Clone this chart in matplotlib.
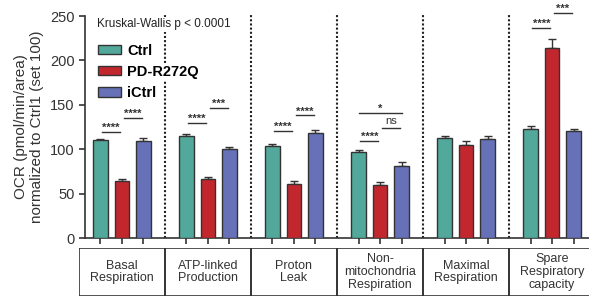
import numpy as np
import matplotlib
matplotlib.use("Agg")
import matplotlib.pyplot as plt
from matplotlib.patches import Rectangle

plt.rcParams['font.family'] = ['Liberation Sans', 'DejaVu Sans']

# 数据
categories = ["Basal\nRespiration", "ATP-linked\nProduction", "Proton\nLeak",
              "Non-\nmitochondria\nRespiration", "Maximal\nRespiration",
              "Spare\nRespiratory\ncapacity"]
groups = ["Ctrl", "PD-R272Q", "iCtrl"]
ctrl = [110, 115, 104, 97, 113, 123]
ctrl_err = [2, 2, 2, 2.5, 2, 3]
pd = [64, 66, 61, 60, 105, 214]
pd_err = [3, 3, 3, 3.5, 4, 10]
ictrl = [109, 100, 118, 81, 112, 120]
ictrl_err = [3.5, 3, 4, 5, 3, 3]

# 显著性标记: (组, 起始柱, 结束柱, 高度, 标签)
sig = [(0, 0, 1, 119, "****"), (0, 1, 2, 135, "****"),
       (1, 0, 1, 129, "****"), (1, 1, 2, 146, "***"),
       (2, 0, 1, 120, "****"), (2, 1, 2, 138, "****"),
       (3, 0, 1, 109, "****"), (3, 1, 2, 124, "ns"), (3, 0, 2, 141, "*"),
       (5, 0, 1, 236, "****"), (5, 1, 2, 253, "***")]

colors = ["#52a99b", "#c1272d", "#6671b7"]
values = [ctrl, pd, ictrl]
errors = [ctrl_err, pd_err, ictrl_err]
offsets = [-0.25, 0, 0.25]

fig = plt.figure(figsize=(5.89, 3.01), dpi=100)
ax = fig.add_axes([85/589, 63/301, 504/589, 222/301])

x = np.arange(len(categories))
for k in range(3):
    ax.bar(x + offsets[k], values[k], width=0.165, color=colors[k],
           edgecolor="#333333", linewidth=1.0, label=groups[k], zorder=3)
    ax.errorbar(x + offsets[k], values[k], yerr=[np.zeros(len(x)), errors[k]],
                fmt="none", ecolor="#333333", elinewidth=1.0, capsize=3,
                capthick=1.0, zorder=2)

for i in range(len(categories) - 1):
    ax.plot([i + 0.5, i + 0.5], [0, 252], ls=(0, (1, 1)), color="#222222",
            lw=1.5, zorder=1, clip_on=False)

for g, a, b, h, lab in sig:
    x1 = g + offsets[a] + 0.02
    x2 = g + offsets[b] - 0.02
    if b - a == 2:
        x1 = g + offsets[a]
        x2 = g + offsets[b]
    ax.plot([x1, x2], [h, h], color="#333333", lw=1.0, clip_on=False)
    if lab == "ns":
        ax.text((x1 + x2) / 2, h + 2, lab, ha="center", va="bottom",
                fontsize=8, color="#333333")
    else:
        ax.text((x1 + x2) / 2, h - 1, lab, ha="center", va="bottom",
                fontsize=8, color="#333333", fontweight="bold")

ax.set_xlim(-0.43, 5.43)
ax.set_ylim(0, 250)
ax.set_yticks([0, 50, 100, 150, 200, 250])
ax.set_xticks(np.concatenate([x + o for o in offsets]))
ax.set_xticklabels([])
ax.tick_params(axis="both", direction="out", length=4, width=1.2,
               labelsize=10.5, colors="#333333")
ax.spines["top"].set_visible(False)
ax.spines["right"].set_visible(False)
ax.spines["left"].set_linewidth(1.2)
ax.spines["bottom"].set_linewidth(1.2)
ax.spines["left"].set_color("#333333")
ax.spines["bottom"].set_color("#333333")
ax.set_ylabel("OCR (pmol/min/area)\nnormalized to Ctrl1 (set 100)",
              fontsize=11, color="#333333", labelpad=4)

ax.text(0.024, 0.962, "Kruskal-Wallis p < 0.0001", transform=ax.transAxes,
        fontsize=8.5, color="#222222", va="center",
        bbox=dict(facecolor="white", edgecolor="none", pad=1), zorder=5)

leg = ax.legend(loc="upper left", bbox_to_anchor=(0.0, 0.935), frameon=False,
                prop={"weight": "bold", "size": 10.5}, handlelength=1.6,
                handleheight=0.6, labelspacing=0.5, handletextpad=0.4)
leg.set_zorder(5)
for t in leg.get_texts():
    t.set_bbox(dict(facecolor="white", edgecolor="none", pad=0.5))

# 底部类别框
bx = fig.add_axes([79/589, 5/301, 516/589, 48/301])
bx.set_xlim(-0.5, 5.5)
bx.set_ylim(0, 1)
bx.axis("off")
for i, c in enumerate(categories):
    bx.add_patch(Rectangle((i - 0.5, 0), 1, 1, fill=False,
                           edgecolor="#333333", lw=1.2))
    bx.text(i, 0.5, c, ha="center", va="center", fontsize=9,
            color="#333333", linespacing=1.1)

fig.savefig("out.png", dpi=100)
